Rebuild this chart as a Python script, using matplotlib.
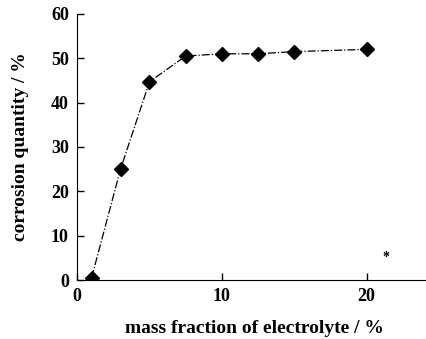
import matplotlib
matplotlib.use("Agg")
import matplotlib.pyplot as plt

# data
mass_fraction = [1, 3, 5, 7.5, 10, 12.5, 15, 20]
corrosion = [0.5, 25, 44.7, 50.5, 51, 51, 51.5, 52]
xticks = [0, 10, 20]
yticks = [0, 10, 20, 30, 40, 50, 60]

plt.rcParams['font.family'] = ['Liberation Serif', 'DejaVu Serif']
plt.rcParams['font.weight'] = 'bold'

fig = plt.figure(figsize=(4.26, 3.39), dpi=100)
ax = fig.add_axes([0.181, 0.174, 0.819, 0.785])

ax.plot(mass_fraction, corrosion, color='black', linestyle='-.', linewidth=0.9,
        marker='D', markersize=7.5, markerfacecolor='black', markeredgecolor='black')

ax.set_xlim(0, 24.1)
ax.set_ylim(0, 60)
ax.set_xticks(xticks)
ax.set_yticks(yticks)
ax.spines['top'].set_visible(False)
ax.spines['right'].set_visible(False)
ax.tick_params(direction='in', length=5, width=1, labelsize=13, pad=6)
ax.set_xlabel('mass fraction of electrolyte / %', fontsize=14, fontweight='bold')
ax.set_ylabel('corrosion quantity / %', fontsize=14, fontweight='bold')
ax.xaxis.set_label_coords(0.507, -0.15)
ax.yaxis.set_label_coords(-0.137, 0.5)

# stray mark in the original scan
ax.text(21.3, 5.0, '*', fontsize=10, ha='center', va='center')

fig.savefig('out.png', dpi=100)
